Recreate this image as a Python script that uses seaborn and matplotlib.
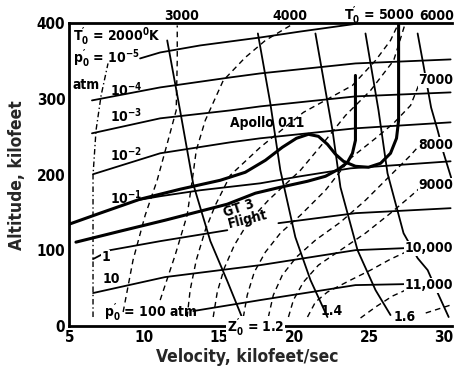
import matplotlib
matplotlib.use("Agg")
import matplotlib.pyplot as plt
from matplotlib import font_manager
import seaborn as sns

sns.set_theme(style="white")

_avail = {(f.name, f.stretch) for f in font_manager.fontManager.ttflist}
_names = {n for n, s in _avail}
STRETCH = 'normal'
if 'Liberation Sans Narrow' in _names:
    FAM, SCALE = 'Liberation Sans Narrow', 1.1
elif ('DejaVu Sans', 'condensed') in _avail:
    FAM, SCALE, STRETCH = 'DejaVu Sans', 1.0, 'condensed'
else:
    FAM, SCALE = 'Liberation Sans', 0.95
plt.rcParams['font.family'] = [FAM, 'DejaVu Sans']
plt.rcParams['font.weight'] = 'bold'
plt.rcParams['font.stretch'] = STRETCH
plt.rcParams['mathtext.fontset'] = 'custom'
plt.rcParams['mathtext.rm'] = FAM + ':bold'
plt.rcParams['mathtext.it'] = FAM + ':bold'
plt.rcParams['mathtext.bf'] = FAM + ':bold'

# ---- pressure lines (p0', atm): velocity kft/s, altitude kft ----
p_1em5_v = [9.71, 11.05, 13.72, 17.73, 20.41, 24.08]
p_1em5_h = [353.8, 361.7, 371.0, 381.5, 389.4, 399.5]
p_1em4_v = [6.50, 11.05, 15.73, 17.73, 24.08, 30.43]
p_1em4_h = [298.3, 315.5, 328.7, 334.0, 347.2, 352.5]
p_1em3_v = [6.50, 11.05, 15.73, 17.73, 24.08, 30.43]
p_1em3_h = [254.8, 274.6, 285.1, 290.4, 303.6, 308.9]
p_1em2_v = [6.57, 11.05, 15.73, 17.73, 24.08, 30.43]
p_1em2_h = [200.7, 228.4, 242.9, 248.2, 261.4, 269.3]
p_1em1_v = [9.51, 11.05, 13.72, 17.73, 20.41, 23.75, 30.43]
p_1em1_h = [166.3, 171.6, 179.5, 188.7, 198.0, 208.5, 217.8]
p_1a_v = [6.57, 7.71, 11.05, 15.53]
p_1a_h = [88.5, 100.3, 112.2, 126.7]
p_1b_v = [18.94, 24.08, 30.43]
p_1b_h = [136.0, 149.2, 155.8]
p_10_v = [6.57, 11.38, 17.73, 24.08, 27.42]
p_10_h = [43.6, 64.7, 80.5, 100.3, 103.0]
p_100_v = [13.26, 17.73, 24.08, 27.42]
p_100_h = [19.8, 34.3, 54.1, 55.4]

# ---- compressibility lines Z0' ----
z12_v = [11.52, 12.39, 13.26, 14.40, 15.53, 16.53]
z12_h = [377.6, 283.8, 187.4, 112.2, 59.4, 10.6]
z14_v = [17.57, 18.40, 19.07, 20.07, 21.08, 22.21]
z14_h = [386.8, 294.4, 205.9, 117.5, 60.7, 11.9]
z16_v = [21.41, 22.55, 23.08, 24.22, 25.42, 26.42]
z16_h = [386.8, 258.7, 183.5, 100.3, 47.5, 14.5]
z18_v = [24.75, 25.62, 26.22, 27.29, 28.23, 28.90, 29.57, 30.30]
z18_h = [386.8, 285.1, 201.9, 122.7, 89.7, 73.9, 43.6, 11.9]
z20_v = [28.23, 28.60, 29.13, 29.57, 29.97, 30.50]
z20_h = [386.8, 346.9, 288.8, 258.4, 228.1, 194.0]

# ---- stagnation temperature lines T0' (K) ----
t2000_v = [6.57, 6.57, 6.77, 7.11, 7.57]
t2000_h = [11.9, 199.3, 258.7, 304.9, 347.2]
t3000_v = [8.58, 9.24, 10.05, 10.85, 11.58, 12.12, 12.19, 12.19]
t3000_h = [18.5, 87.1, 146.5, 192.7, 245.5, 285.1, 351.1, 397.4]
t4000_v = [11.05, 12.05, 12.85, 13.19, 13.46, 14.06, 15.26, 16.73, 18.07, 19.74]
t4000_h = [34.3, 93.7, 146.5, 192.7, 232.3, 271.9, 324.7, 355.1, 377.6, 397.4]
t5000_v = [12.85, 13.05, 13.46, 14.06, 14.73, 15.73, 17.73, 20.61, 23.88, 25.42, 26.42, 26.89]
t5000_h = [11.9, 47.5, 87.1, 126.7, 159.7, 199.3, 236.3, 282.5, 318.1, 351.1, 377.6, 397.4]
t6000_v = [14.59, 14.86, 15.33, 16.00, 16.93, 18.27, 20.41, 22.08, 23.42, 25.09, 26.63, 27.36]
t6000_h = [11.9, 44.9, 76.6, 106.9, 137.3, 166.3, 205.9, 245.5, 278.5, 311.5, 351.1, 397.4]
t7000_v = [16.60, 16.86, 17.33, 18.07, 19.07, 20.41, 22.08, 23.75, 25.42, 26.62, 27.76, 28.29]
t7000_h = [11.9, 40.9, 71.3, 97.7, 122.8, 146.5, 179.5, 221.8, 248.2, 268.0, 291.7, 318.1]
t8000_v = [18.27, 18.60, 19.20, 20.14, 21.41, 23.08, 24.75, 26.42, 27.76, 28.29]
t8000_h = [11.9, 40.9, 67.3, 91.1, 113.5, 137.3, 166.3, 199.3, 225.7, 237.6]
t9000_v = [19.61, 19.94, 20.61, 21.61, 23.08, 24.75, 26.42, 27.76, 28.29]
t9000_h = [11.9, 34.3, 58.1, 80.5, 100.3, 122.8, 149.2, 171.6, 180.9]
t10000_v = [20.88, 21.41, 22.21, 23.75, 25.09, 26.42, 27.43]
t10000_h = [11.9, 31.7, 44.9, 60.7, 73.9, 88.4, 97.7]
t11000_v = [24.42, 25.42, 26.55, 27.43]
t11000_h = [10.6, 25.1, 39.6, 47.5]
t12000_v = [28.77, 30.43]
t12000_h = [17.2, 27.7]

# ---- flight trajectories ----
apollo_v = [4.97, 7.04, 9.71, 12.39, 15.06, 16.73, 18.07, 19.20, 20.14, 20.94, 21.61,
            22.21, 22.75, 23.28, 24.08, 24.95, 25.76, 26.42, 26.82, 26.96, 26.96, 26.96]
apollo_h = [134.6, 149.2, 167.7, 180.9, 192.7, 203.3, 219.1, 236.3, 248.2, 253.5, 250.8,
            240.3, 227.1, 217.8, 211.2, 209.9, 215.2, 228.4, 248.2, 271.9, 324.7, 398.7]
gt3_v = [5.43, 8.38, 11.38, 13.72, 15.53, 17.40, 19.07, 20.88, 22.08, 22.95, 23.55,
         23.88, 24.08, 24.08, 24.08]
gt3_h = [110.9, 125.4, 139.9, 151.8, 161.1, 175.6, 183.5, 191.4, 198.0, 207.3, 216.5,
         228.4, 245.5, 271.9, 331.3]


def line(v, h, lw=1.2, ls='-'):
    sns.lineplot(x=v, y=h, sort=False, estimator=None, color='black',
                 linewidth=lw, linestyle=ls, ax=ax, legend=False)


fig = plt.figure(figsize=(4.59, 3.79), dpi=100)
ax = fig.add_axes([0.1514, 0.1398, 0.8326, 0.7982])

for v, h in [(p_1em5_v, p_1em5_h), (p_1em4_v, p_1em4_h), (p_1em3_v, p_1em3_h),
             (p_1em2_v, p_1em2_h), (p_1em1_v, p_1em1_h), (p_1a_v, p_1a_h),
             (p_1b_v, p_1b_h), (p_10_v, p_10_h), (p_100_v, p_100_h)]:
    line(v, h, lw=1.3)
for v, h in [(z12_v, z12_h), (z14_v, z14_h), (z16_v, z16_h), (z18_v, z18_h), (z20_v, z20_h)]:
    line(v, h, lw=1.3)
line(t2000_v, t2000_h, lw=1.0, ls=(0, (4, 2, 1, 2)))
for v, h in [(t3000_v, t3000_h), (t4000_v, t4000_h), (t5000_v, t5000_h), (t6000_v, t6000_h),
             (t7000_v, t7000_h), (t8000_v, t8000_h), (t9000_v, t9000_h),
             (t10000_v, t10000_h), (t11000_v, t11000_h), (t12000_v, t12000_h)]:
    line(v, h, lw=1.0, ls=(0, (4, 3)))
line(apollo_v, apollo_h, lw=2.2)
line(gt3_v, gt3_h, lw=2.2)

ax.set_xlim(5, 30.5)
ax.set_ylim(0, 400)
ax.set_xticks([5, 10, 15, 20, 25, 30])
ax.set_yticks([0, 100, 200, 300, 400])
ax.tick_params(axis='both', direction='in', length=5, width=1.5,
               labelsize=11 * SCALE, pad=3, colors='black')
for lab in ax.get_xticklabels() + ax.get_yticklabels():
    lab.set_fontweight('bold')
for s in ['left', 'bottom', 'top']:
    ax.spines[s].set_linewidth(2)
    ax.spines[s].set_color('black')
ax.spines['right'].set_visible(False)
ax.set_xlabel('Velocity, kilofeet/sec', fontsize=12.5 * SCALE, fontweight='bold')
ax.set_ylabel('Altitude, kilofeet', fontsize=12.5 * SCALE, fontweight='bold')
ax.xaxis.set_label_coords(0.465, -0.072)
ax.yaxis.set_label_coords(-0.113, 0.5)

tk = dict(fontsize=10 * SCALE, fontweight='bold', color='black')
wb = dict(facecolor='white', edgecolor='none', pad=0.3)
# left labels
ax.text(5.25, 382, r"T$_0'$ = 2000$^0$K", ha='left', va='center', **tk)
ax.text(5.25, 354, r"p$_0'$ = 10$^{-5}$", ha='left', va='center', **tk)
ax.text(5.2, 319, "atm", ha='left', va='center', **tk)
ax.text(7.7, 313, r"10$^{-4}$", ha='left', va='center', **tk)
ax.text(7.7, 278, r"10$^{-3}$", ha='left', va='center', **tk)
ax.text(7.7, 226, r"10$^{-2}$", ha='left', va='center', **tk)
ax.text(7.7, 170, r"10$^{-1}$", ha='left', va='center', **tk)
ax.text(7.4, 91, "1", ha='center', va='center', bbox=wb, **tk)
ax.text(7.2, 62, "10", ha='left', va='center', **tk)
ax.text(7.3, 17, r"p$_0'$ = 100 atm", ha='left', va='center', **tk)
# trajectory labels
ax.text(15.7, 269, "Apollo 011", ha='left', va='center', **tk)
ax.text(16.3, 155, "GT 3", ha='center', va='center', rotation=18, **tk)
ax.text(16.9, 141, "Flight", ha='center', va='center', rotation=14, **tk)
# Z labels
ax.text(15.5, -2.5, r"Z$_0'$ = 1.2", ha='left', va='center', bbox=wb, **tk)
ax.text(21.75, 20, "1.4", ha='left', va='center', **tk)
ax.text(26.6, 12, "1.6", ha='left', va='center', **tk)
# T labels top
ax.text(12.45, 410, "3000", ha='center', va='center', clip_on=False, **tk)
ax.text(19.74, 410, "4000", ha='center', va='center', clip_on=False, **tk)
ax.text(25.7, 410, r"T$_0'$ = 5000", ha='center', va='center', clip_on=False, **tk)
ax.text(29.5, 410, "6000", ha='center', va='center', clip_on=False, **tk)
# T labels right
for yy, s in [(325, "7000"), (240, "8000"), (186, "9000"), (103, "10,000"), (54, "11,000")]:
    ax.text(30.6, yy, s, ha='right', va='center', bbox=wb, **tk)

fig.savefig("out.png", dpi=100)
